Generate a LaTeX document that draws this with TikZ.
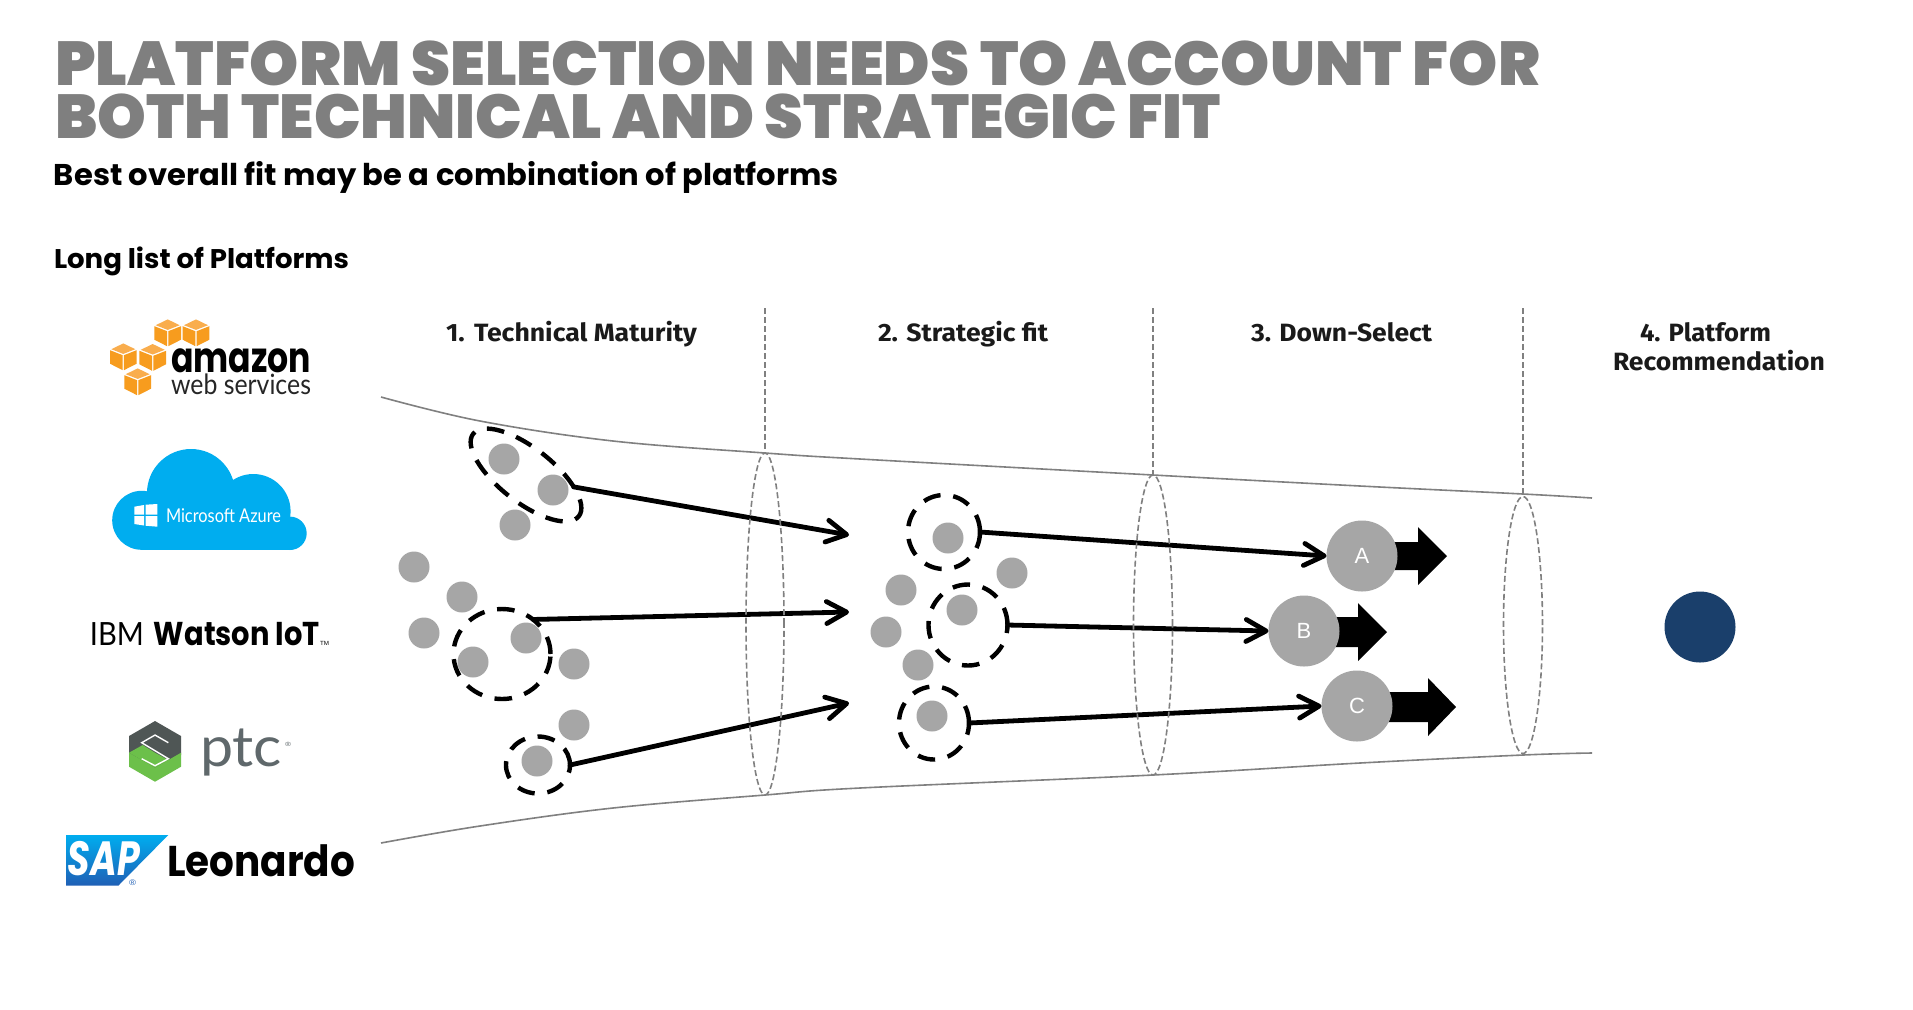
\documentclass[tikz,border=0pt]{standalone}
\usepackage{graphicx}
\usepackage{fontspec}
\usetikzlibrary{shapes.geometric,arrows.meta}
\setmainfont{Liberation Sans}
\newfontfamily\blackf{Poppins Black}
\newfontfamily\boldf{Poppins}[UprightFont=* Bold]
\newfontfamily\headf{Fira Sans}[UprightFont=* Bold]
\newfontfamily\thinf{Lato}
\newfontfamily\lightf{Lato Light}
\definecolor{titlegrey}{HTML}{7F7F7F}
\definecolor{dotgrey}{HTML}{A6A6A6}
\definecolor{linegrey}{HTML}{808080}
\definecolor{headcol}{HTML}{1A1A1A}
\definecolor{navy}{HTML}{1A3F6B}
\definecolor{awsor}{HTML}{F79C1E}
\definecolor{awstop}{HTML}{F9AD4D}
\definecolor{azurec}{HTML}{00ADEF}
\definecolor{saplow}{HTML}{1F5FB5}
\definecolor{ptcgrey}{HTML}{4F5655}
\definecolor{ptcgreen}{HTML}{6CC04A}
\definecolor{ptctext}{HTML}{5F686B}
\newdimen\fxl
\newcommand\fitx[2]{\setbox0=\hbox{#2}\fxl=\wd0\relax\pgfmathsetmacro\fxr{#1*0.5/\fxl}\scalebox{\fxr}[1]{\box0}}
\newcommand\fz[1]{\fontsize{#1}{#1}\selectfont}
\newcommand\awscube[2]{%
  \begin{scope}[shift={(#1,#2)}]
    \fill[awsor] (-13.3,-6.5) -- (-0.6,-1.5) -- (-0.6,13.5) -- (-13.3,7) -- cycle;
    \fill[awsor] (13.3,-6.5) -- (0.6,-1.5) -- (0.6,13.5) -- (13.3,7) -- cycle;
    \fill[awstop] (0,-13.3) -- (12,-7.5) -- (0,-2.8) -- (-12,-7.5) -- cycle;
  \end{scope}}
\tikzset{
  x=0.5pt,y=-0.5pt,
  lbl/.style={anchor=base west,inner sep=0pt,outer sep=0pt},
  dot/.style={circle,fill=dotgrey,inner sep=0pt,outer sep=0pt,minimum size=15.5pt},
  bigdot/.style={circle,fill=dotgrey,inner sep=0pt,outer sep=0pt,minimum size=35.5pt,text=white,font=\fz{11}},
  ring/.style={ellipse,draw=black,line width=2.2pt,dash pattern=on 8.8pt off 6.4pt,inner sep=0pt,outer sep=0pt},
  conn/.style={line width=2.4pt,line cap=round,-{Straight Barb[length=10pt,width=11pt,round]}},
  funnel/.style={draw=linegrey,line width=0.8pt},
  gate/.style={ellipse,draw=linegrey,line width=0.8pt,dash pattern=on 3pt off 1.5pt,inner sep=0pt,outer sep=0pt},
  gateline/.style={draw=linegrey,line width=0.8pt,dash pattern=on 3pt off 1.5pt},
}
\begin{document}
\begin{tikzpicture}
\useasboundingbox (0,0) rectangle (1913,1009);
\fill[white] (0,0) rectangle (1913,1009);
% texts
\node[lbl,text=titlegrey] (t1) at (55,85) {\fitx{1485}{\blackf\fz{31}PLATFORM SELECTION NEEDS TO ACCOUNT FOR}};
\node[lbl,text=titlegrey] (t2) at (55,138) {\fitx{1166}{\blackf\fz{31}BOTH TECHNICAL AND STRATEGIC FIT}};
\node[lbl,text=black] (sub) at (54,185) {\fitx{785}{\boldf\fz{15}Best overall fit may be a combination of platforms}};
\node[lbl,text=black] (long) at (54,268) {\fitx{295}{\boldf\fz{13.5}Long list of Platforms}};
\node[lbl,text=headcol] (h1) at (446,341) {\fitx{251}{\headf\fz{12.5}1.\hspace{.35em}Technical Maturity}};
\node[lbl,text=headcol] (h2) at (878,341) {\fitx{170}{\headf\fz{12.5}2. Strategic fit}};
\node[lbl,text=headcol] (h3) at (1251,341) {\fitx{181}{\headf\fz{12.5}3. Down-Select}};
\node[lbl,text=headcol] (h4) at (1640,341) {\fitx{131}{\headf\fz{12.5}4. Platform}};
\node[lbl,text=headcol] (h4b) at (1613,370) {\fitx{212}{\headf\fz{12.5}Recommendation}};
% funnel
\draw[funnel] plot[smooth,tension=0.6] coordinates {(381,397) (480,421) (613,441) (765,453) (860,459) (1153,475) (1360,486) (1523,494) (1592,498)};
\draw[funnel] plot[smooth,tension=0.6] coordinates {(381,843) (480,826) (613,808) (765,795) (860,788) (1153,775) (1360,763) (1523,755) (1592,753)};
% first stage dots
\foreach \n/\a/\b in {a1/504/459,a2/553/490,a3/515/525,a4/414/567,a5/462/597,a6/424/633,a7/526/638,a8/473/662,a9/574/664,a10/574/725,a11/537/761}
  \node[dot] (\n) at (\a,\b) {};
% second stage dots
\foreach \n/\a/\b in {b1/948/538,b2/901/590,b3/1012/573,b4/962/610,b5/886/632,b6/918/665,b7/932/716}
  \node[dot] (\n) at (\a,\b) {};
% rings
\node[ring,minimum width=67pt,minimum height=27pt,rotate=-38] (e1) at (526,475) {};
\node[ring,minimum width=48.5pt,minimum height=45pt] (e2) at (502,654) {};
\node[ring,minimum width=32pt,minimum height=28.5pt] (e3) at (538,765) {};
\node[ring,minimum width=36pt,minimum height=37pt] (c1) at (944,532) {};
\node[ring,minimum width=39.5pt,minimum height=40.5pt] (c2) at (968,625) {};
\node[ring,minimum width=35pt,minimum height=36.5pt] (c3) at (934,723) {};
% block arrows
\fill[black] (1360,542) -- (1418,542) -- (1418,527) -- (1447,556) -- (1418,585) -- (1418,570) -- (1360,570) -- cycle;
\fill[black] (1304,617) -- (1358,617) -- (1358,603) -- (1387,632) -- (1358,661) -- (1358,647) -- (1304,647) -- cycle;
\fill[black] (1357,692) -- (1428,692) -- (1428,678) -- (1456,707) -- (1428,736) -- (1428,722) -- (1357,722) -- cycle;
% big dots
\node[bigdot] (A) at (1362,556) {A};
\node[bigdot] (B) at (1304,631) {B};
\node[bigdot] (C) at (1357,706) {C};
\node[circle,fill=navy,inner sep=0pt,outer sep=0pt,minimum size=35.5pt] (D) at (1700,627) {};
% connectors
\coordinate (t1end) at (849,535);
\coordinate (t2end) at (849,612);
\coordinate (t3end) at (849,703);
\draw[conn] (e1.24) -- (t1end);
\draw[conn] (e2.48) -- (t2end);
\draw[conn] (e3.east) -- (t3end);
\draw[conn] (c1.east) -- (A.west);
\draw[conn] (c2.east) -- (B.west);
\draw[conn] (c3.east) -- (C.west);
% gates
\node[gate,minimum width=19pt,minimum height=171pt] (g1) at (765,624) {};
\node[gate,minimum width=19.5pt,minimum height=150pt] (g2) at (1153,625) {};
\node[gate,minimum width=19.5pt,minimum height=128.5pt] (g3) at (1523,625) {};
\coordinate (g1top) at (765,308);
\coordinate (g2top) at (1153,308);
\coordinate (g3top) at (1523,308);
\draw[gateline] (g1top) -- (g1.north);
\draw[gateline] (g2top) -- (g2.north);
\draw[gateline] (g3top) -- (g3.north);
% AWS logo
\awscube{167.7}{332.7}
\awscube{196}{332.7}
\awscube{123.3}{356.7}
\awscube{152.7}{357.3}
\awscube{137.7}{381.7}
\node[lbl,text=black] (amz) at (171,372) {\fitx{140}{\boldf\fz{21}amazon}};
\node[lbl,text=black!85] (aws) at (171,394) {\fitx{140}{\thinf\fz{14}web services}};
% Azure logo
\fill[azurec] (191,493) circle[radius=44];
\fill[azurec] (141.7,520.3) circle[radius=29.5];
\fill[azurec] (253.3,511.3) circle[radius=37.3];
\fill[azurec] (290,533.3) circle[radius=16.7];
\fill[azurec] (141.7,510) rectangle (290,550);
\fill[white] (134.3,506.7) -- (144,505) -- (144,514.5) -- (134.3,514.5) -- cycle;
\fill[white] (145.5,504.7) -- (157.3,504) -- (157.3,514.5) -- (145.5,514.5) -- cycle;
\fill[white] (134.3,516) -- (144,516) -- (144,525.5) -- (134.3,524) -- cycle;
\fill[white] (145.5,516) -- (157.3,516) -- (157.3,526.7) -- (145.5,525.7) -- cycle;
\node[lbl,text=white] (azt) at (166,522) {\fitx{115}{\thinf\fz{9.5}Microsoft Azure}};
% IBM
\node[lbl,text=black] (ibm) at (90,645) {\fitx{54}{\thinf\fz{16}IBM}};
\node[lbl,text=black] (wat) at (154,645) {\fitx{166}{\boldf\fz{16.5}Watson IoT}};
\node[lbl,text=black] (tm) at (320,645) {\fitx{9}{\fz{3}TM}};
% PTC logo
\begin{scope}[shift={(40,600)},x=0.1667pt,y=-0.1667pt]
\fill[ptcgrey] (345,363) -- (423,408) -- (423,465) -- (345,510) -- (267,465) -- (267,408) -- cycle;
\fill[ptcgreen] (267,458) -- (345,503) -- (423,458) -- (423,500) -- (345,545) -- (267,500) -- cycle;
\fill[ptcgreen] (267,458) -- (308,435) -- (345,458) -- (385,480) -- (345,503) -- cycle;
\draw[white,line width=0.7pt] (385,428) -- (345,405) -- (305,428) -- (345,452) -- (385,476) -- (345,497) -- (305,476);
\end{scope}
\node[lbl,text=ptctext] (ptc) at (200,766) {\fitx{82}{\thinf\fz{28}ptc}};
\node[lbl,text=ptctext] (reg) at (285,746) {\fitx{6}{\fz{3}®}};
% SAP logo
\shade[top color=azurec,bottom color=saplow] (66,835) -- (168.3,835) -- (118.3,885.7) -- (66,885.7) -- cycle;
\node[lbl,text=white] (sap) at (68,875) {\fitx{72}{\boldf\itshape\fz{24}SAP}};
\node[lbl,text=saplow] (sapr) at (129,885) {\fitx{7}{\fz{4}®}};
\node[lbl,text=black] (leo) at (167,876) {\fitx{188}{\boldf\fz{21.5}Leonardo}};
\end{tikzpicture}
\end{document}
